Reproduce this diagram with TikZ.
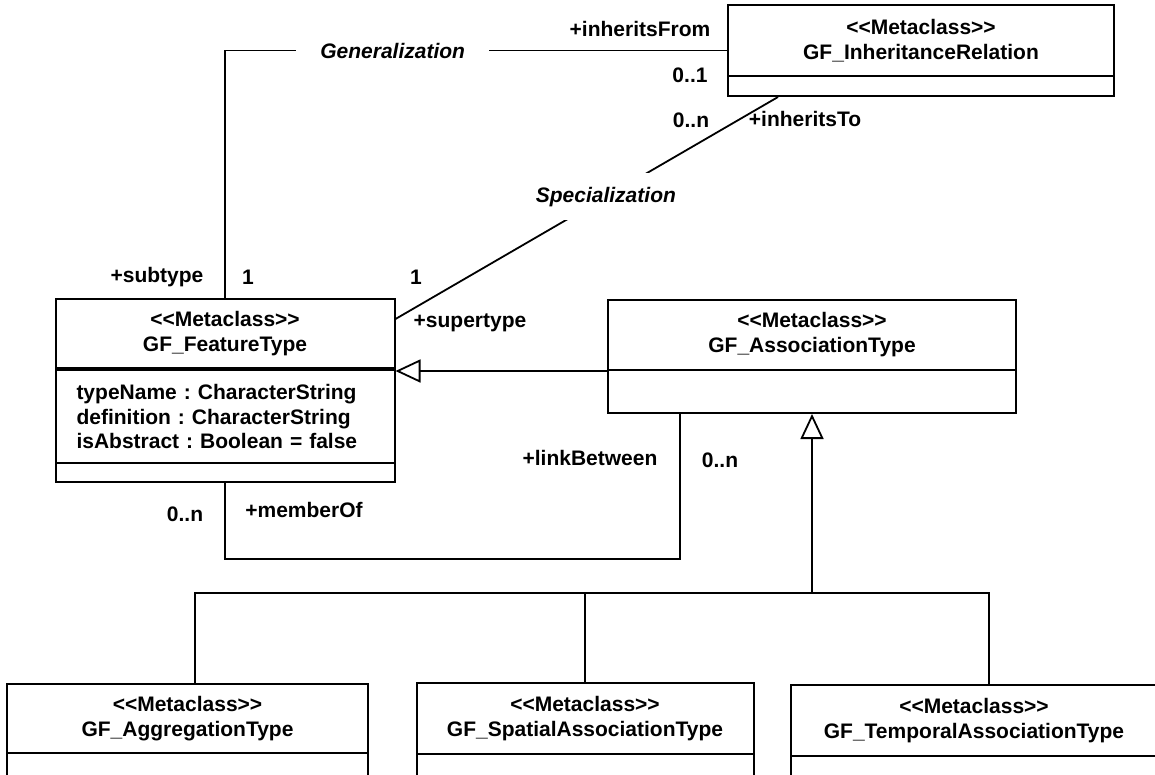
\documentclass[tikz,border=0pt]{standalone}
\usepackage{fontspec}
\setmainfont{Liberation Sans}
\frenchspacing
\usetikzlibrary{positioning, arrows.meta}
\tikzset{
	x=1pt, y=-1pt, % Un punto por pixel, y hacia abajo
	every node/.style={font=\bfseries\fontsize{21}{25}\selectfont, inner sep=0pt}, % Texto de todos los nodos
	clase/.style 2 args={draw, line width=2pt, minimum width=#1, minimum height=#2}, % Marco de la clase
	kopf/.style 2 args={clase={#1}{#2}, align=center}, % Compartimento del nombre
	attr/.style={draw, line width=2pt, align=left, text width=297pt, inner xsep=21pt, minimum height=93pt, font=\bfseries\fontsize{21}{24.5}\selectfont}, % Atributos
	rotulo/.style={fill=white, font=\bfseries\itshape\fontsize{21}{25}\selectfont}, % Nombre de la asociacion
	linea/.style={line width=1.8pt}, % Asociaciones
	herencia/.style={linea, -{Triangle[open, length=25pt, width=23pt]}} % Generalizacion
}

\begin{document}
\begin{tikzpicture}
	\useasboundingbox (0,0) rectangle (1155,774);
	\node[clase={386}{91}] (inh) at (921,50.5) {};
	\node[kopf={386}{70.5}, below=0pt of inh.north] (inh-h) {{<}{<}Metaclass{>}{>}\\GF\_InheritanceRelation};
	\node[clase={339}{183}] (feat) at (225,390.5) {};
	\node[kopf={339}{69}, below=0pt of feat.north] (feat-h) {{<}{<}Metaclass{>}{>}\\GF\_FeatureType};
	\node[attr, below=0pt of feat-h] (feat-a) {typeName : CharacterString\\definition : CharacterString\\isAbstract : Boolean = false};
	\node[clase={408}{113}] (assoc) at (812,356.5) {};
	\node[kopf={408}{70}, below=0pt of assoc.north] (assoc-h) {{<}{<}Metaclass{>}{>}\\GF\_AssociationType};
	\node[clase={361}{120}] (aggr) at (187.5,744) {};
	\node[kopf={361}{69}, below=0pt of aggr.north] (aggr-h) {{<}{<}Metaclass{>}{>}\\GF\_AggregationType};
	\node[clase={337}{120}] (spat) at (585,743) {};
	\node[kopf={337}{71}, below=0pt of spat.north] (spat-h) {{<}{<}Metaclass{>}{>}\\GF\_SpatialAssociationType};
	\node[clase={366}{120}] (temp) at (974,745) {};
	\node[kopf={366}{71}, below=0pt of temp.north] (temp-h) {{<}{<}Metaclass{>}{>}\\GF\_TemporalAssociationType};

	\draw[linea] (feat.north) |- node[rotulo, minimum width=193pt, pos=0.667] (gen) {Generalization} (inh.west);
	\draw[linea] ([xshift=-143pt]inh.south) -- node[rotulo, minimum height=47pt, pos=0.45] (spec) {Specialization} ([yshift=-21pt]feat.north east);
	\draw[herencia] (assoc-h.south west) -- (assoc-h.south west -| feat.east);
	\draw[linea] (feat.south) -- ++(0,76) -| ([xshift=-132pt]assoc.south);
	\coordinate (baum) at (assoc.south |- 0,593);
	\draw[herencia] (baum) -- (assoc.south);
	\draw[linea] ([xshift=7.5pt]aggr.north) |- (baum);
	\draw[linea] (spat.north) -- (spat.north |- baum);
	\draw[linea] ([xshift=15pt]temp.north) |- (baum);

	\node (r-from) at (640,29) {+inheritsFrom};
	\node (m-from) at (690,75) {0..1};
	\node (m-to) at (691,120) {0..n};
	\node (r-to) at (805,119) {+inheritsTo};
	\node (r-sub) at (157,277) {+subtype};
	\node (m-sub) at (248,277) {1};
	\node (m-sup) at (416,277) {1};
	\node (r-sup) at (470,323) {+supertype};
	\node (r-link) at (590,458) {+linkBetween};
	\node (m-link) at (720,460) {0..n};
	\node (m-mem) at (185,514) {0..n};
	\node (r-mem) at (304,510) {+memberOf};
\end{tikzpicture}
\end{document}
